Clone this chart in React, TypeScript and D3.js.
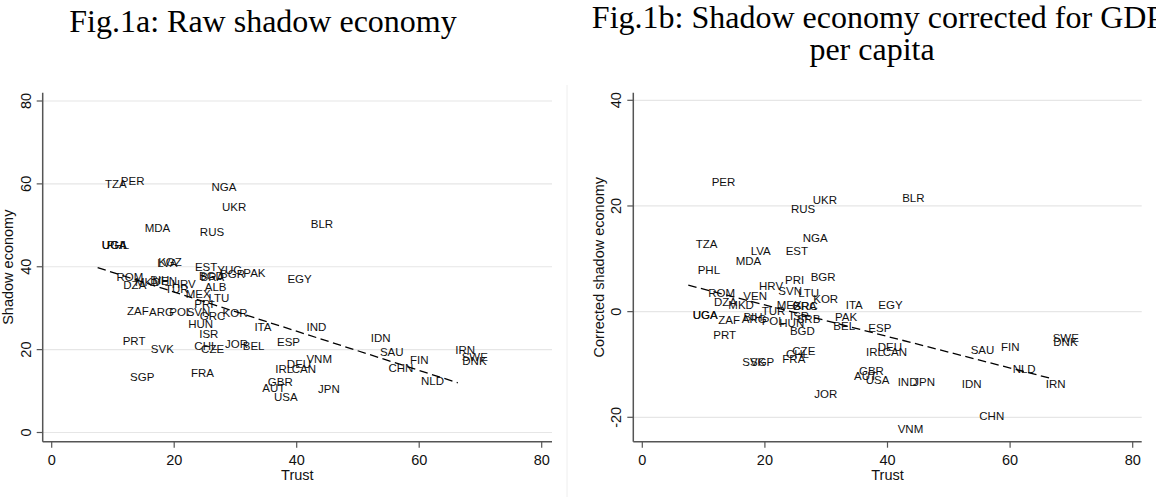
import React from "react";
import * as d3 from "d3";

// ---------- Data: Fig.1a (raw shadow economy) ----------
const rawCodes = ["TZA","PER","NGA","UKR","MDA","RUS","UGA","UGA","PHL","BLR","LVA","KGZ","EST","YUG","BGD","BRA","BGR","PAK","EGY","ROM","DZA","MKD","BIH","VEN","HRV","TUR","ALB","MEX","LTU","PRI","ZAF","ARG","POL","SVN","GRC","KOR","HUN","ITA","ISR","PRT","SVK","CHL","CZE","JOR","BEL","IND","ESP","IDN","SAU","IRN","SWE","DNK","FIN","CHN","NLD","VNM","DEU","IRL","CAN","GBR","AUT","USA","JPN","SGP","FRA"];
const rawTrust = [8.2,10.8,25.6,27.3,14.7,23.7,7.7,7.7,8.5,41.8,16.75,16.9,22.9,26.55,23.56,23.8,27.0,30.8,38.0,10.1,11.2,13.1,15.6,16.1,19.1,18.0,24.5,21.4,25.1,22.8,11.8,15.4,18.7,21.55,23.7,27.4,21.8,32.6,23.6,11.1,15.7,22.8,23.9,27.8,30.7,41.1,36.3,51.6,53.1,65.4,66.45,66.55,58.0,54.5,59.8,41.1,37.9,36.0,38.7,34.8,33.9,35.8,43.0,12.3,22.25];
const rawShadow = [60.0,60.8,59.3,54.4,49.4,48.4,45.3,45.3,45.4,50.3,41.0,41.2,40.0,39.2,37.8,37.6,38.4,38.6,37.0,37.5,35.6,36.4,36.8,36.6,35.8,34.6,35.2,33.4,32.5,31.0,29.3,29.0,29.0,29.2,28.2,28.8,26.1,25.5,23.9,22.1,20.3,20.9,20.1,21.3,20.9,25.5,21.9,22.9,19.5,19.9,18.3,17.3,17.5,15.6,12.4,17.7,16.5,15.25,15.25,12.3,10.8,8.5,10.5,13.4,14.4];
const rawFitTrust = [7.5, 66.3];
const rawFitShadow = [39.8, 12.0];

// ---------- Data: Fig.1b (corrected for GDP per capita) ----------
const corrCodes = ["PER","UKR","RUS","BLR","NGA","TZA","LVA","EST","MDA","PHL","PRI","BGR","HRV","SVN","LTU","KOR","ROM","VEN","DZA","MKD","MEX","GRC","BRA","ITA","EGY","UGA","UGA","ZAF","ARG","BIH","TUR","POL","ISR","SRB","HUN","BGD","PAK","BEL","ESP","PRT","CZE","CHL","FRA","SVK","SGP","IRL","CAN","DEU","GBR","AUT","USA","JOR","IND","JPN","IDN","SAU","FIN","NLD","IRN","SWE","DNK","CHN","VNM"];
const corrTrust = [10.83,27.31,23.77,41.9,25.68,8.22,17.19,22.9,14.75,8.55,22.79,26.98,18.55,21.7,24.96,27.4,10.28,15.99,11.21,13.54,21.44,23.98,24.1,32.69,38.01,7.73,7.73,11.91,15.73,16.0,18.99,18.99,23.6,24.7,21.86,23.6,30.95,30.67,36.38,11.09,23.98,22.95,22.35,15.82,17.08,36.0,38.73,37.91,34.86,34.05,35.95,27.57,41.17,43.72,51.62,53.08,58.03,59.93,65.32,66.46,66.56,54.49,41.17];
const corrShadow = [24.59,21.12,19.42,21.5,13.87,12.8,11.47,11.47,9.58,7.87,5.98,6.61,4.9,3.9,3.46,2.39,3.58,2.95,1.76,1.25,1.25,1.12,1.0,1.25,1.25,-0.64,-0.64,-1.59,-1.4,-1.0,0.1,-1.78,-0.83,-1.4,-2.21,-3.62,-1.08,-2.73,-3.05,-4.43,-7.4,-7.9,-8.97,-9.48,-9.48,-7.7,-7.7,-6.76,-11.19,-12.13,-12.82,-15.65,-13.27,-13.27,-13.76,-7.27,-6.64,-10.87,-13.76,-4.94,-5.7,-19.76,-22.22];
const corrFitTrust = [7.5, 66.5];
const corrFitShadow = [5.0, -12.6];

// ---------- Ticks ----------
const xTicks = [0, 20, 40, 60, 80];
const rawYTicks = [0, 20, 40, 60, 80];
const corrYTicks = [-20, 0, 20, 40];

const SANS = "'Liberation Sans', Arial, Helvetica, sans-serif";
const SERIF = "'Liberation Serif', 'Times New Roman', serif";
const AXIS = "#555";
const GRID = "#e6e6e6";
const TEXT = "#111";

type PanelProps = {
  frame: { x0: number; x1: number; y0: number; y1: number };
  x: d3.ScaleLinear<number, number>;
  y: d3.ScaleLinear<number, number>;
  yTicks: number[];
  codes: string[];
  xs: number[];
  ys: number[];
  fitX: number[];
  fitY: number[];
  yTitle: string;
  yTickX: number;
  yTitleX: number;
};

function Panel(p: PanelProps) {
  const { frame, x, y } = p;
  const line = d3
    .line<number>()
    .x((_, i) => x(p.fitX[i]))
    .y((d) => y(d));
  const midY = (frame.y0 + frame.y1) / 2;
  const midX = (frame.x0 + frame.x1) / 2;
  return (
    <g>
      {p.yTicks.map((t) => (
        <line key={"g" + t} x1={frame.x0} x2={frame.x1} y1={y(t)} y2={y(t)} stroke={GRID} strokeWidth={1.2} />
      ))}
      {p.codes.map((c, i) => (
        <text
          key={"l" + i}
          x={x(p.xs[i]) + 3}
          y={y(p.ys[i])}
          dy="0.36em"
          fontFamily={SANS}
          fontSize={11.5}
          fill={TEXT}
        >
          {c}
        </text>
      ))}
      <path d={line(p.fitY) || ""} fill="none" stroke="#000" strokeWidth={1.3} strokeDasharray="8.5,4.5" />
      <line x1={frame.x0} x2={frame.x0} y1={frame.y0} y2={frame.y1} stroke={AXIS} strokeWidth={1.5} />
      <line x1={frame.x0} x2={frame.x1} y1={frame.y1} y2={frame.y1} stroke={AXIS} strokeWidth={1.5} />
      {xTicks.map((t) => (
        <g key={"x" + t}>
          <line x1={x(t)} x2={x(t)} y1={frame.y1} y2={frame.y1 + 6} stroke={AXIS} strokeWidth={1.2} />
          <text x={x(t)} y={frame.y1 + 23} textAnchor="middle" fontFamily={SANS} fontSize={14.5} fill={TEXT}>
            {t}
          </text>
        </g>
      ))}
      {p.yTicks.map((t) => (
        <g key={"y" + t}>
          <line x1={frame.x0 - 6} x2={frame.x0} y1={y(t)} y2={y(t)} stroke={AXIS} strokeWidth={1.2} />
          <text
            transform={`translate(${p.yTickX},${y(t)}) rotate(-90)`}
            textAnchor="middle"
            fontFamily={SANS}
            fontSize={14.5}
            fill={TEXT}
          >
            {t}
          </text>
        </g>
      ))}
      <text x={midX} y={frame.y1 + 38} textAnchor="middle" fontFamily={SANS} fontSize={14.5} fill={TEXT}>
        Trust
      </text>
      <text
        transform={`translate(${p.yTitleX},${midY}) rotate(-90)`}
        textAnchor="middle"
        fontFamily={SANS}
        fontSize={14.5}
        fill={TEXT}
      >
        {p.yTitle}
      </text>
    </g>
  );
}

export default function App() {
  const leftFrame = { x0: 42.7, x1: 552, y0: 92.7, y1: 441.7 };
  const rightFrame = { x0: 633.3, x1: 1141.7, y0: 92.7, y1: 441.7 };
  const xL = d3.scaleLinear().domain([0, 80]).range([51.7, 541.7]);
  const yL = d3.scaleLinear().domain([0, 80]).range([432.5, 101]);
  const xR = d3.scaleLinear().domain([0, 80]).range([642.3, 1132.7]);
  const yR = d3.scaleLinear().domain([-20, 40]).range([417.3, 100.3]);
  return (
    <svg
      width={1156}
      height={497}
      style={{ position: "absolute", left: 0, top: 0, background: "#fff" }}
    >
      <rect x={0} y={0} width={1156} height={497} fill="#fff" />
      <line x1={567} x2={567} y1={85} y2={497} stroke="#eeeeee" strokeWidth={1} />
      <text x={263} y={31.5} textAnchor="middle" fontFamily={SERIF} fontSize={32} fill="#000">
        Fig.1a: Raw shadow economy
      </text>
      <text x={878} y={27.6} textAnchor="middle" fontFamily={SERIF} fontSize={32} fill="#000">
        Fig.1b: Shadow economy corrected for GDP
      </text>
      <text x={872} y={59.6} textAnchor="middle" fontFamily={SERIF} fontSize={32} fill="#000">
        per capita
      </text>
      <Panel
        frame={leftFrame}
        x={xL}
        y={yL}
        yTicks={rawYTicks}
        codes={rawCodes}
        xs={rawTrust}
        ys={rawShadow}
        fitX={rawFitTrust}
        fitY={rawFitShadow}
        yTitle="Shadow economy"
        yTickX={30.5}
        yTitleX={13}
      />
      <Panel
        frame={rightFrame}
        x={xR}
        y={yR}
        yTicks={corrYTicks}
        codes={corrCodes}
        xs={corrTrust}
        ys={corrShadow}
        fitX={corrFitTrust}
        fitY={corrFitShadow}
        yTitle="Corrected shadow economy"
        yTickX={621}
        yTitleX={604}
      />
    </svg>
  );
}
